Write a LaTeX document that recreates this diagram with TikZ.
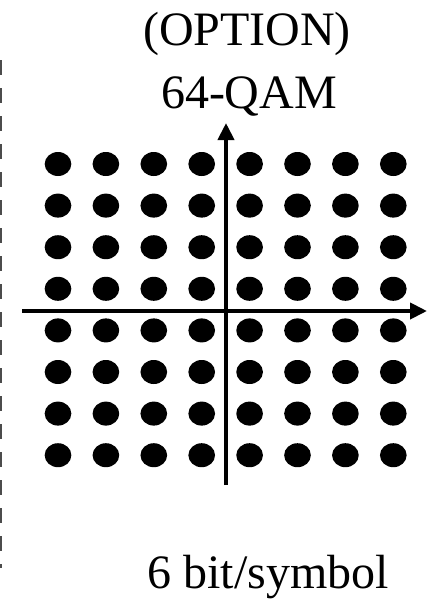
\documentclass[tikz,border=0pt]{standalone}
\usepackage{fontspec}
\setmainfont{Liberation Serif}
\usetikzlibrary{arrows.meta,positioning,shapes.geometric}

\begin{document}
\begin{tikzpicture}[x=0.75pt, y=-0.75pt,
    axis/.style={line width=3pt, -{Triangle[length=12.75pt, width=12pt]}},
    qamdot/.style={ellipse, fill=black, inner sep=0pt, minimum width=20pt, minimum height=18pt},
    caption/.style={font=\fontsize{36}{40}\selectfont, anchor=base, inner sep=0pt}]
    \useasboundingbox (0,0) rectangle (431,601);

    % Dashed separator on the left
    \coordinate (sepTop) at (1,60);
    \coordinate (sepBot) at (1,568);
    \draw[black!70, line width=1.5pt, dash pattern=on 11.25pt off 9.75pt] (sepTop) -- (sepBot);

    % Title
    \node[caption] (option) at (247,45) {(OPTION)};
    \node[caption] (qam) at (249,108) {64-QAM};

    % Constellation points (8 x 8)
    \foreach \i in {0,...,7} {
        \foreach \j in {0,...,7} {
            \node[qamdot] (d-\i-\j) at ({58+47.9*\i}, {164+41.6*\j}) {};
        }
    }

    % Axes
    \coordinate (iStart) at (22,311);
    \coordinate (iEnd) at (427,311);
    \coordinate (qStart) at (226,485);
    \coordinate (qEnd) at (226,123);
    \draw[axis] (iStart) -- (iEnd);
    \draw[axis] (qStart) -- (qEnd);

    % Bit rate
    \node[caption] (rate) at (268,588) {6 bit/symbol};
\end{tikzpicture}
\end{document}
